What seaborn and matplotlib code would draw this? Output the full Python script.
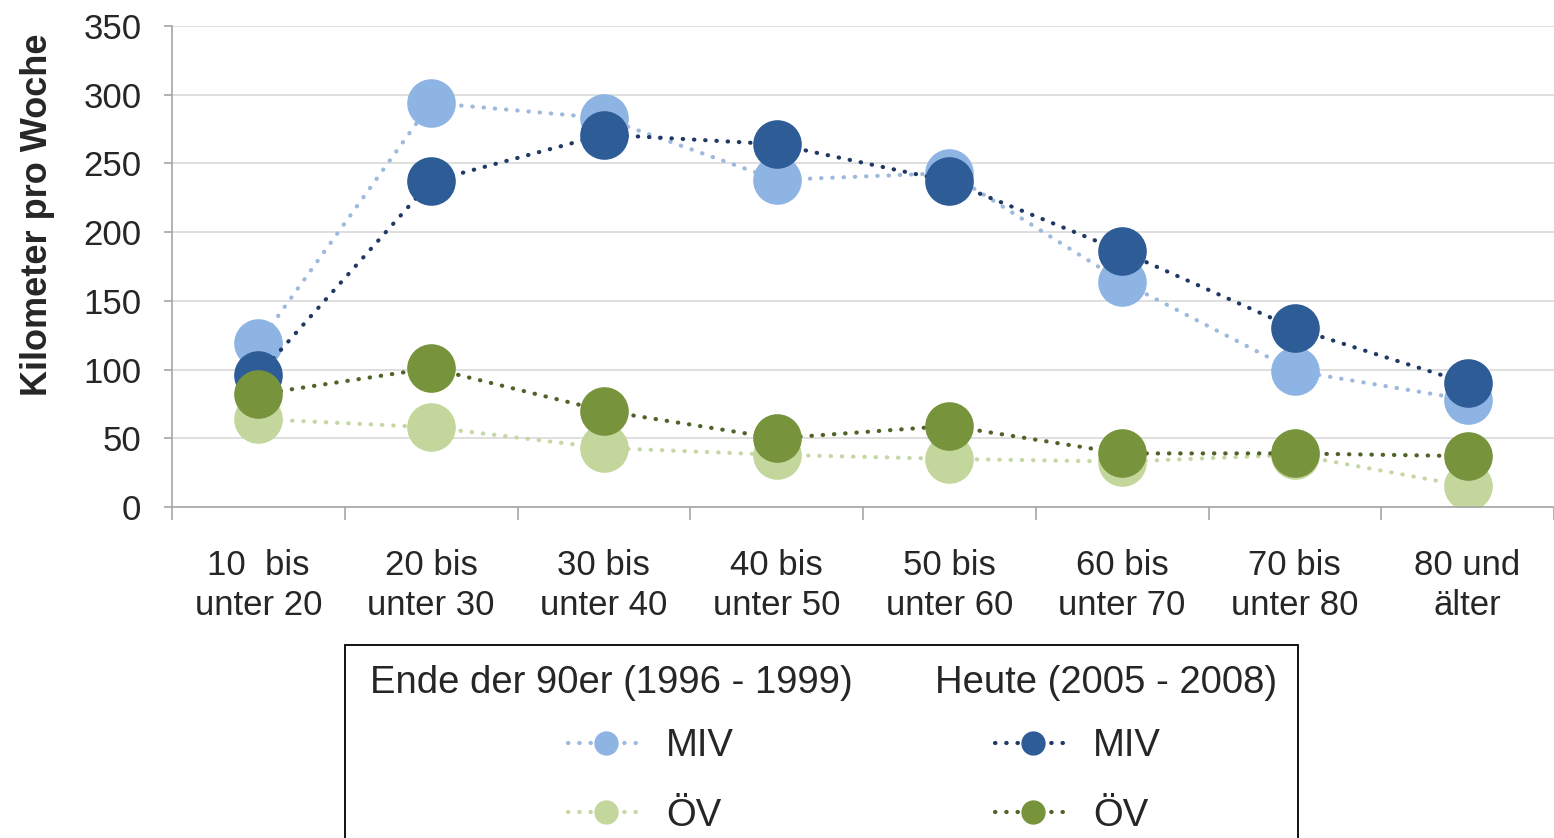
import numpy as np
import pandas as pd
import matplotlib.pyplot as plt
from matplotlib.lines import Line2D
from matplotlib.patches import Rectangle
import seaborn as sns

altersgruppen = ['10  bis\nunter 20', '20 bis\nunter 30', '30 bis\nunter 40', '40 bis\nunter 50',
                 '50 bis\nunter 60', '60 bis\nunter 70', '70 bis\nunter 80', '80 und\nälter']
miv_90er = [119, 294, 283, 238, 243, 164, 99, 78]
oev_90er = [64, 58, 43, 38, 35, 33, 38, 15]
miv_heute = [96, 237, 271, 264, 237, 186, 130, 90]
oev_heute = [82, 101, 70, 50, 59, 39, 39, 37]
y_ticks = [0, 50, 100, 150, 200, 250, 300, 350]

# (werte, linienfarbe, markerfarbe) - Zeichenreihenfolge wie im Original
serien = [
    (miv_90er, '#9DB9DC', '#8EB4E3'),
    (oev_90er, '#C6D7A6', '#C3D69B'),
    (miv_heute, '#1F3864', '#2E5C97'),
    (oev_heute, '#4F6228', '#77933C'),
]

sns.set_style('white')
plt.rcParams['font.family'] = ['Liberation Sans', 'DejaVu Sans']

fig = plt.figure(figsize=(15.54, 8.38), dpi=100)
ax = fig.add_axes([172/1554, 1 - 507/838, 1382/1554, 481/838])

pos = np.arange(len(altersgruppen))
punktiert = (0, (0.1, 2.6))
for werte, lc, mc in serien:
    df = pd.DataFrame({'x': pos, 'km': werte})
    sns.lineplot(data=df, x='x', y='km', ax=ax, color=lc, linewidth=3,
                 linestyle=punktiert, dash_capstyle='round',
                 marker='o', markersize=35, markerfacecolor=mc,
                 markeredgecolor=mc, markeredgewidth=0)

ax.set_xlim(-0.5, len(altersgruppen) - 0.5)
ax.set_ylim(0, 350)
ax.set_yticks(y_ticks)
ax.set_xticks(np.arange(-0.5, len(altersgruppen), 1))
ax.set_xticklabels([])
ax.set_xticks(pos, minor=True)
ax.set_xticklabels(altersgruppen, minor=True, fontsize=25, linespacing=1.27)
ax.tick_params(axis='x', which='major', length=9, width=1.2, color='#A6A6A6', bottom=True)
ax.tick_params(axis='x', which='minor', length=0, pad=30)
ax.tick_params(axis='y', length=6, width=1.2, color='#A6A6A6', labelsize=25, pad=16, left=True)

ax.yaxis.grid(True, color='#D9D9D9', linewidth=1.2)
ax.set_axisbelow(True)
for s in ['top', 'right']:
    ax.spines[s].set_visible(False)
for s in ['left', 'bottom']:
    ax.spines[s].set_color('#A6A6A6')
    ax.spines[s].set_linewidth(1.2)

ax.set_xlabel('')
ax.set_ylabel('Kilometer pro Woche', fontsize=26, fontweight='bold')
ax.yaxis.set_label_coords(-0.085, 0.607)

# Legende: Rahmen, Spaltentitel und zwei Eintragsspalten
fig.add_artist(Rectangle((345/1554, -0.1), (1298 - 345)/1554, 0.1 + 1 - 645/838,
                         transform=fig.transFigure, fill=False, edgecolor='black', linewidth=1.3))
fig.text(370/1554, 1 - 683/838, 'Ende der 90er (1996 - 1999)', va='center', fontsize=27.5)
fig.text(935/1554, 1 - 683/838, 'Heute (2005 - 2008)', va='center', fontsize=27.5)

def griff(lc, mc):
    return Line2D([], [], color=lc, linewidth=3, linestyle=punktiert, dash_capstyle='round',
                  marker='o', markersize=16.5, markerfacecolor=mc, markeredgecolor=mc)

for (a, b), x0 in [((0, 1), 568), ((2, 3), 995)]:
    fig.legend([griff(*serien[a][1:]), griff(*serien[b][1:])], ['MIV', 'ÖV'],
               loc='center left', bbox_to_anchor=(x0/1554, 1 - 781/838),
               frameon=False, fontsize=27.5, handlelength=1.97, handletextpad=0.6,
               borderpad=0, borderaxespad=0, labelspacing=0.88)

fig.savefig('out.png', dpi=100)
